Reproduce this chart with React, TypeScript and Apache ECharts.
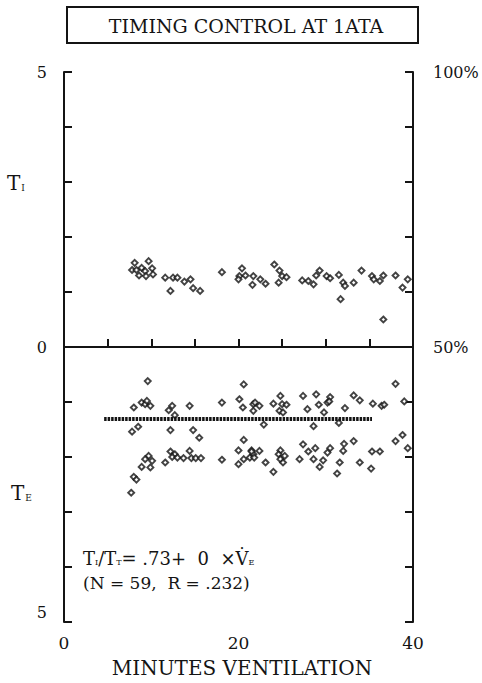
import React, { useEffect, useRef } from "react";
import * as echarts from "echarts";

// T_I points: [minutes, seconds]
const TI_POINTS: number[][] = [
  [8.1, 1.53], [9.7, 1.56], [7.8, 1.4], [8.3, 1.4], [8.9, 1.44], [9.3, 1.38], [10.1, 1.43],
  [8.6, 1.3], [9.4, 1.29], [10.2, 1.32], [11.6, 1.26], [12.5, 1.26], [13.0, 1.26], [12.2, 1.02],
  [13.8, 1.19], [14.5, 1.23], [14.8, 1.07], [15.6, 1.02], [18.1, 1.36], [20.4, 1.43], [20.1, 1.29],
  [20.8, 1.3], [21.7, 1.29], [21.6, 1.13], [20.0, 1.23], [22.5, 1.23], [23.1, 1.15], [24.1, 1.5],
  [24.7, 1.39], [25.0, 1.29], [25.5, 1.27], [24.6, 1.17], [27.3, 1.21], [28.0, 1.2], [28.6, 1.14],
  [28.9, 1.3], [29.3, 1.39], [30.1, 1.29], [30.5, 1.25], [31.5, 1.31], [32.0, 1.17], [32.2, 1.11],
  [31.7, 0.87], [33.2, 1.17], [34.1, 1.39], [35.3, 1.29], [35.5, 1.23], [36.2, 1.2], [36.6, 1.3],
  [36.6, 0.5], [38.0, 1.3], [38.8, 1.08], [39.4, 1.23],
];

// T_E points: [minutes, -seconds]
const TE_POINTS: number[][] = [
  [9.6, -0.62], [8.0, -1.1], [8.9, -1.01], [9.3, -1.04], [9.9, -1.07], [9.5, -0.98], [12.4, -1.07],
  [12.0, -1.15], [14.4, -1.07], [12.7, -1.24], [18.1, -1.01], [20.6, -0.68], [20.1, -0.95],
  [20.5, -1.1], [21.7, -1.04], [7.8, -1.54], [8.5, -1.45], [12.2, -1.51], [14.8, -1.51], [15.5, -1.65],
  [20.6, -1.69], [9.7, -1.98], [9.3, -2.04], [10.1, -2.07], [8.9, -2.18], [9.9, -2.19], [8.0, -2.36],
  [8.3, -2.41], [7.7, -2.65], [12.2, -1.9], [12.7, -1.95], [12.4, -2.0], [11.6, -2.1], [13.0, -2.01],
  [13.7, -2.02], [14.4, -1.89], [14.6, -2.02], [15.1, -2.02], [15.7, -2.02], [18.1, -2.05], [20.0, -1.88],
  [21.5, -1.88], [20.6, -2.04], [21.3, -2.01], [21.7, -1.95], [20.0, -2.13],
  [21.9, -1.01], [22.4, -1.07], [21.7, -1.16], [24.8, -0.89], [24.0, -1.03], [25.0, -1.04], [25.5, -1.05],
  [24.7, -1.16], [25.1, -1.19], [27.4, -0.89], [28.9, -0.86], [27.9, -1.13], [29.2, -1.05], [30.2, -1.01],
  [30.5, -0.91], [30.4, -0.99], [29.8, -1.19], [32.2, -1.11], [33.2, -0.88], [33.9, -0.97], [35.4, -1.03],
  [36.4, -1.07], [36.7, -1.05], [38.0, -0.67], [39.0, -0.99], [22.9, -1.41], [28.6, -1.44], [31.5, -1.38],
  [21.5, -1.9], [22.4, -1.89], [21.8, -2.01], [23.1, -2.1], [24.0, -2.27], [24.8, -1.88], [24.6, -1.95],
  [24.8, -2.04], [25.3, -1.98], [25.1, -2.1], [27.4, -1.77], [27.0, -2.04], [28.0, -1.9], [28.8, -1.84],
  [28.6, -2.04], [29.3, -2.18], [29.7, -2.06], [30.5, -1.84], [30.2, -1.92], [32.1, -1.76], [32.0, -1.89],
  [31.6, -2.1], [31.3, -2.3], [33.2, -1.71], [33.9, -2.1], [35.2, -2.21], [35.3, -1.9], [36.2, -1.9],
  [38.0, -1.71], [38.8, -1.6], [39.4, -1.84],
];

// Fitted line T_I/T_T = .73 (drawn as a row of marks)
const FIT_LINE: number[][] = [[4.6, -1.31], [35.3, -1.31]];

const X_LABELS = [0, 20, 40];
const LEFT_LABELS: Record<string, string> = { "5": "5", "0": "0", "-5": "5" };
const RIGHT_LABELS: Record<string, string> = { "100": "100%", "50": "50%" };

const SERIF = "DejaVu Serif";
const INK = "#141414";

export default function App() {
  const ref = useRef<HTMLDivElement>(null);
  useEffect(() => {
    if (!ref.current) return;
    const chart = echarts.init(ref.current, null, { renderer: "svg" });
    const pointStyle = { color: "#fff", borderColor: INK, borderWidth: 1.9 };
    chart.setOption({
      animation: false,
      backgroundColor: "#fff",
      textStyle: { fontFamily: SERIF },
      grid: { left: 64, right: 69, top: 72, bottom: 61 },
      xAxis: {
        type: "value",
        min: 0,
        max: 40,
        interval: 5,
        axisLine: { show: true, lineStyle: { color: INK, width: 2 } },
        axisTick: { show: true, inside: true, length: 8, lineStyle: { color: INK, width: 2 } },
        splitLine: { show: false },
        axisLabel: {
          margin: 12,
          fontFamily: SERIF,
          fontSize: 17,
          color: INK,
          formatter: (v: number) => (X_LABELS.includes(v) ? String(v) : ""),
        },
      },
      yAxis: [
        {
          type: "value",
          min: -5,
          max: 5,
          interval: 1,
          position: "left",
          axisLine: { show: true, onZero: false, lineStyle: { color: INK, width: 2 } },
          axisTick: { show: true, inside: true, length: 8, lineStyle: { color: INK, width: 2 } },
          splitLine: { show: false },
          axisLabel: {
            margin: 17,
            fontFamily: SERIF,
            fontSize: 16,
            color: INK,
            formatter: (v: number) => {
              const s = LEFT_LABELS[String(v)];
              if (!s) return "";
              return v === -5 ? "{up|" + s + "}" : s;
            },
            rich: { up: { fontFamily: SERIF, fontSize: 16, color: INK, padding: [0, 0, 20, 0] } },
          },
        },
        {
          type: "value",
          min: 0,
          max: 100,
          interval: 10,
          position: "right",
          axisLine: { show: true, onZero: false, lineStyle: { color: INK, width: 2 } },
          axisTick: { show: true, inside: true, length: 8, lineStyle: { color: INK, width: 2 } },
          splitLine: { show: false },
          axisLabel: {
            margin: 20,
            fontFamily: SERIF,
            fontSize: 16,
            color: INK,
            formatter: (v: number) => RIGHT_LABELS[String(v)] || "",
          },
        },
      ],
      series: [
        {
          type: "scatter",
          name: "TI",
          data: TI_POINTS,
          symbol: "diamond",
          symbolSize: [6, 6],
          itemStyle: pointStyle,
          markLine: {
            silent: true,
            symbol: "none",
            label: { show: false },
            lineStyle: { color: INK, width: 1.6, type: "solid" },
            data: [{ yAxis: 0 }],
          },
        },
        {
          type: "scatter",
          name: "TE",
          data: TE_POINTS,
          symbol: "diamond",
          symbolSize: [6, 6],
          itemStyle: pointStyle,
        },
        {
          type: "line",
          name: "fit",
          data: FIT_LINE,
          symbol: "none",
          lineStyle: { color: INK, width: 4, type: [2.5, 1] },
        },
      ],
      graphic: [
        {
          type: "rect",
          shape: { x: 67, y: 7, width: 351, height: 36 },
          style: { fill: "none", stroke: INK, lineWidth: 2 },
        },
        {
          type: "text",
          x: 246,
          y: 26,
          style: {
            text: "TIMING CONTROL AT 1ATA",
            fontFamily: SERIF,
            fontSize: 19,
            fill: INK,
            align: "center",
            verticalAlign: "middle",
          },
        },
        {
          type: "text",
          x: 7,
          y: 183,
          style: {
            text: "{t|T}{s|I}",
            verticalAlign: "middle",
            rich: {
              t: { fontFamily: SERIF, fontSize: 20, fill: INK },
              s: { fontFamily: SERIF, fontSize: 9, fill: INK, padding: [10, 0, 0, 1] },
            },
          },
        },
        {
          type: "text",
          x: 11,
          y: 493,
          style: {
            text: "{t|T}{s|E}",
            verticalAlign: "middle",
            rich: {
              t: { fontFamily: SERIF, fontSize: 20, fill: INK },
              s: { fontFamily: SERIF, fontSize: 9, fill: INK, padding: [10, 0, 0, 1] },
            },
          },
        },
        {
          type: "text",
          x: 83,
          y: 558,
          style: {
            text: "{t|T}{s|I}{t|/T}{s|T}{t|= .73+  0  \u00d7V\u0307}{s|E}",
            verticalAlign: "middle",
            rich: {
              t: { fontFamily: SERIF, fontSize: 18, fill: INK },
              s: { fontFamily: SERIF, fontSize: 8, fill: INK, padding: [9, 0, 0, 0] },
            },
          },
        },
        {
          type: "text",
          x: 83,
          y: 583,
          style: {
            text: "(N = 59,  R = .232)",
            fontFamily: SERIF,
            fontSize: 17,
            fill: INK,
            verticalAlign: "middle",
          },
        },
        {
          type: "text",
          x: 242,
          y: 668,
          style: {
            text: "MINUTES VENTILATION",
            fontFamily: SERIF,
            fontSize: 20,
            fill: INK,
            align: "center",
            verticalAlign: "middle",
          },
        },
      ],
    });
    return () => chart.dispose();
  }, []);
  return <div ref={ref} style={{ width: 482, height: 683, position: "absolute", left: 0, top: 0 }} />;
}
